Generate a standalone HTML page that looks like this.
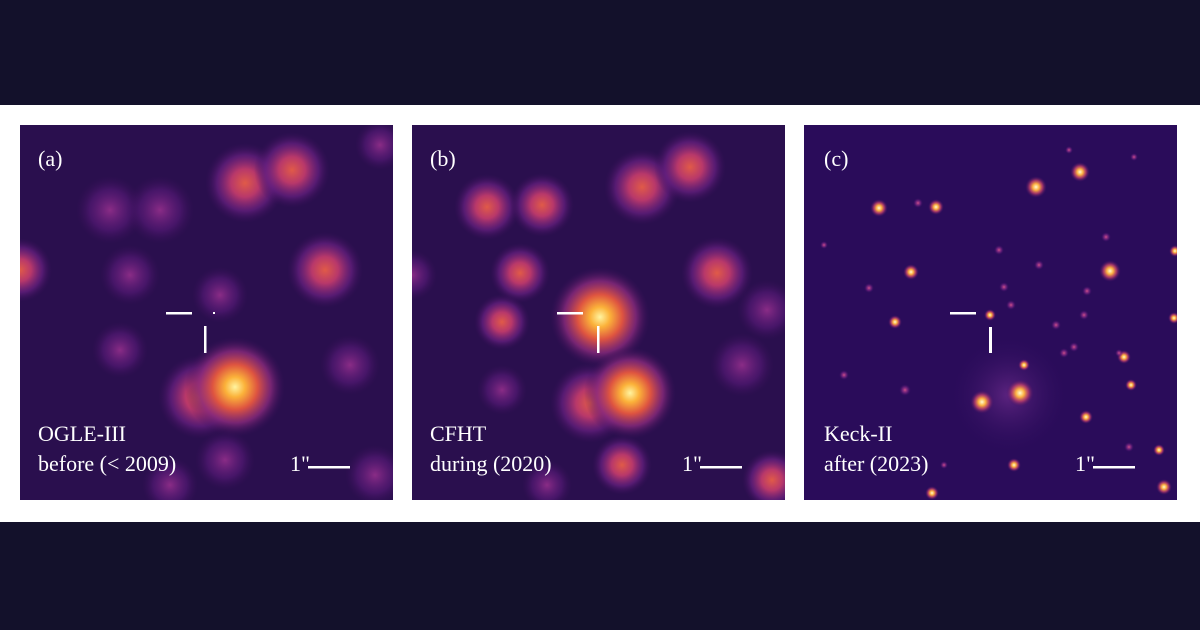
<!DOCTYPE html>
<html><head><meta charset="utf-8"><style>
html,body{margin:0;padding:0;background:#13112b;}
svg{display:block}
text{font-family:"Liberation Serif",serif;fill:#fff;font-size:22px}
</style></head><body>
<svg width="1200" height="630" viewBox="0 0 1200 630" xmlns="http://www.w3.org/2000/svg">
<defs>
<radialGradient id="hot"><stop offset="0" stop-color="#fff4a0"/><stop offset="0.2" stop-color="#fbb23a"/><stop offset="0.45" stop-color="#de5440"/><stop offset="0.72" stop-color="#8a2a7c" stop-opacity="0.8"/><stop offset="1" stop-color="#3c0f5a" stop-opacity="0"/></radialGradient>
<radialGradient id="warm"><stop offset="0" stop-color="#e05a48"/><stop offset="0.35" stop-color="#b8386a"/><stop offset="0.7" stop-color="#6a2082" stop-opacity="0.7"/><stop offset="1" stop-color="#3c0f5a" stop-opacity="0"/></radialGradient>
<radialGradient id="faint"><stop offset="0" stop-color="#8a2c86"/><stop offset="0.6" stop-color="#5a1a7a" stop-opacity="0.6"/><stop offset="1" stop-color="#3c0f5a" stop-opacity="0"/></radialGradient>
<radialGradient id="star"><stop offset="0" stop-color="#fffbd0"/><stop offset="0.3" stop-color="#fcb040"/><stop offset="0.6" stop-color="#c0406a" stop-opacity="0.8"/><stop offset="1" stop-color="#3a0c66" stop-opacity="0"/></radialGradient>
<radialGradient id="dim"><stop offset="0" stop-color="#d0508a"/><stop offset="0.5" stop-color="#8a2a8a" stop-opacity="0.6"/><stop offset="1" stop-color="#3a0c66" stop-opacity="0"/></radialGradient>
<radialGradient id="halo"><stop offset="0" stop-color="#6a2a8a" stop-opacity="0.8"/><stop offset="1" stop-color="#2c0c5c" stop-opacity="0"/></radialGradient>
<clipPath id="cp"><rect x="0" y="0" width="373" height="375"/></clipPath>
</defs>
<rect x="0" y="105" width="1200" height="417" fill="#fff"/>

<!-- Panel a -->
<g transform="translate(20,125)" clip-path="url(#cp)">
<rect width="373" height="375" fill="#2a0f4e"/>
<circle cx="225" cy="58" r="40" fill="url(#warm)"/>
<circle cx="272" cy="45" r="38" fill="url(#warm)"/>
<circle cx="90" cy="85" r="34" fill="url(#faint)"/>
<circle cx="140" cy="85" r="34" fill="url(#faint)"/>
<circle cx="305" cy="145" r="38" fill="url(#warm)"/>
<circle cx="0" cy="145" r="32" fill="url(#warm)"/>
<circle cx="110" cy="150" r="30" fill="url(#faint)"/>
<circle cx="100" cy="225" r="28" fill="url(#faint)"/>
<circle cx="200" cy="170" r="28" fill="url(#faint)"/>
<circle cx="180" cy="272" r="42" fill="url(#warm)"/>
<circle cx="215" cy="262" r="50" fill="url(#hot)"/>
<circle cx="330" cy="240" r="30" fill="url(#faint)"/>
<circle cx="205" cy="335" r="30" fill="url(#faint)"/>
<circle cx="355" cy="350" r="30" fill="url(#faint)"/>
<circle cx="150" cy="360" r="28" fill="url(#faint)"/>
<circle cx="360" cy="20" r="25" fill="url(#faint)"/>
<rect x="146" y="187" width="26" height="2.5" fill="#fff"/>
<rect x="184" y="201" width="2.5" height="27" fill="#fff"/>
<rect x="193" y="187" width="2" height="2" fill="#fff"/>
<text x="18" y="41">(a)</text>
<text x="18" y="316">OGLE-III</text>
<text x="18" y="346">before (&lt; 2009)</text>
<text x="270" y="346">1"</text>
<rect x="288" y="341" width="42" height="2.5" fill="#fff"/>
</g>

<!-- Panel b -->
<g transform="translate(412,125)" clip-path="url(#cp)">
<rect width="373" height="375" fill="#2a0f4e"/>
<circle cx="230" cy="62" r="38" fill="url(#warm)"/>
<circle cx="278" cy="42" r="36" fill="url(#warm)"/>
<circle cx="75" cy="82" r="33" fill="url(#warm)"/>
<circle cx="130" cy="80" r="32" fill="url(#warm)"/>
<circle cx="305" cy="148" r="36" fill="url(#warm)"/>
<circle cx="108" cy="148" r="30" fill="url(#warm)"/>
<circle cx="90" cy="197" r="28" fill="url(#warm)"/>
<circle cx="188" cy="192" r="50" fill="url(#hot)"/>
<circle cx="178" cy="278" r="40" fill="url(#warm)"/>
<circle cx="218" cy="268" r="46" fill="url(#hot)"/>
<circle cx="355" cy="185" r="30" fill="url(#faint)"/>
<circle cx="330" cy="240" r="32" fill="url(#faint)"/>
<circle cx="210" cy="340" r="30" fill="url(#warm)"/>
<circle cx="360" cy="355" r="30" fill="url(#warm)"/>
<circle cx="0" cy="150" r="25" fill="url(#faint)"/>
<circle cx="135" cy="360" r="25" fill="url(#faint)"/>
<circle cx="90" cy="265" r="25" fill="url(#faint)"/>
<rect x="145" y="187" width="26" height="2.5" fill="#fff"/>
<rect x="185" y="201" width="2.5" height="27" fill="#fff"/>
<text x="18" y="41">(b)</text>
<text x="18" y="316">CFHT</text>
<text x="18" y="346">during (2020)</text>
<text x="270" y="346">1"</text>
<rect x="288" y="341" width="42" height="2.5" fill="#fff"/>
</g>

<!-- Panel c -->
<g transform="translate(804,125)" clip-path="url(#cp)">
<rect width="373" height="375" fill="#2a0c5a"/>
<circle cx="205" cy="270" r="60" fill="url(#halo)"/>
<circle cx="232" cy="62" r="11" fill="url(#star)"/>
<circle cx="276" cy="47" r="10" fill="url(#star)"/>
<circle cx="75" cy="83" r="9" fill="url(#star)"/>
<circle cx="132" cy="82" r="8" fill="url(#star)"/>
<circle cx="306" cy="146" r="11" fill="url(#star)"/>
<circle cx="107" cy="147" r="8" fill="url(#star)"/>
<circle cx="216" cy="268" r="14" fill="url(#star)"/>
<circle cx="178" cy="277" r="12" fill="url(#star)"/>
<circle cx="91" cy="197" r="7" fill="url(#star)"/>
<circle cx="186" cy="190" r="6" fill="url(#star)"/>
<circle cx="220" cy="240" r="6" fill="url(#star)"/>
<circle cx="282" cy="292" r="7" fill="url(#star)"/>
<circle cx="320" cy="232" r="7" fill="url(#star)"/>
<circle cx="327" cy="260" r="6" fill="url(#star)"/>
<circle cx="370" cy="193" r="6" fill="url(#star)"/>
<circle cx="371" cy="126" r="6" fill="url(#star)"/>
<circle cx="210" cy="340" r="7" fill="url(#star)"/>
<circle cx="128" cy="368" r="7" fill="url(#star)"/>
<circle cx="360" cy="362" r="8" fill="url(#star)"/>
<circle cx="355" cy="325" r="6" fill="url(#star)"/>
<circle cx="325" cy="322" r="5" fill="url(#dim)"/>
<circle cx="101" cy="265" r="6" fill="url(#dim)"/>
<circle cx="260" cy="228" r="5" fill="url(#dim)"/>
<circle cx="270" cy="222" r="5" fill="url(#dim)"/>
<circle cx="195" cy="125" r="5" fill="url(#dim)"/>
<circle cx="235" cy="140" r="5" fill="url(#dim)"/>
<circle cx="200" cy="162" r="5" fill="url(#dim)"/>
<circle cx="207" cy="180" r="5" fill="url(#dim)"/>
<circle cx="252" cy="200" r="5" fill="url(#dim)"/>
<circle cx="280" cy="190" r="5" fill="url(#dim)"/>
<circle cx="283" cy="166" r="5" fill="url(#dim)"/>
<circle cx="302" cy="112" r="5" fill="url(#dim)"/>
<circle cx="65" cy="163" r="5" fill="url(#dim)"/>
<circle cx="114" cy="78" r="5" fill="url(#dim)"/>
<circle cx="40" cy="250" r="5" fill="url(#dim)"/>
<circle cx="20" cy="120" r="4" fill="url(#dim)"/>
<circle cx="315" cy="228" r="4" fill="url(#dim)"/>
<circle cx="265" cy="25" r="4" fill="url(#dim)"/>
<circle cx="140" cy="340" r="4" fill="url(#dim)"/>
<circle cx="330" cy="32" r="4" fill="url(#dim)"/>
<rect x="146" y="187" width="26" height="2.5" fill="#fff"/>
<rect x="185" y="202" width="3" height="26" fill="#fff"/>
<text x="20" y="41">(c)</text>
<text x="20" y="316">Keck-II</text>
<text x="20" y="346">after (2023)</text>
<text x="271" y="346">1"</text>
<rect x="289" y="341" width="42" height="2.5" fill="#fff"/>
</g>
</svg>
</body></html>
